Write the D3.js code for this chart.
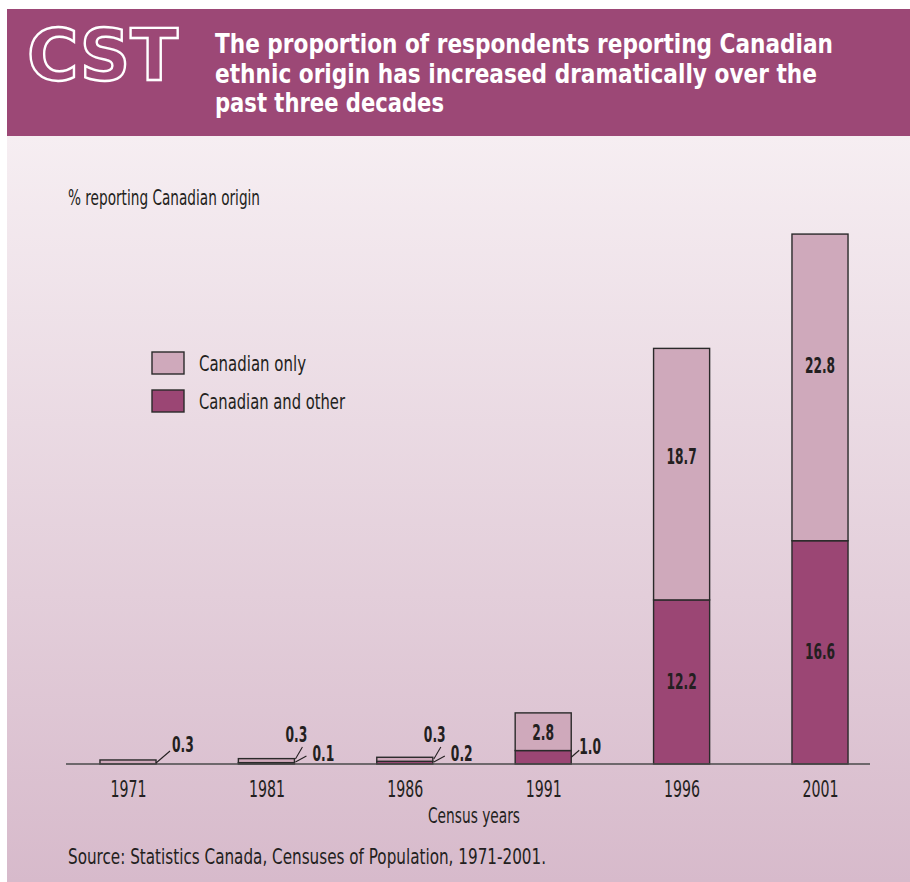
<!DOCTYPE html>
<html>
<head>
<meta charset="utf-8">
<script src="https://cdn.jsdelivr.net/npm/d3@7"></script>
<style>
  html, body { margin: 0; padding: 0; background: #ffffff; }
  svg { display: block; }
</style>
</head>
<body>
<div id="chart"></div>
<script>
// ---------------- data ----------------
const years = ["1971", "1981", "1986", "1991", "1996", "2001"];
const canadianOther = [0, 0.1, 0.2, 1.0, 12.2, 16.6];
const canadianOnly  = [0.3, 0.3, 0.3, 2.8, 18.7, 22.8];
const seriesNames = ["Canadian only", "Canadian and other"];
const titleLines = [
  "The proportion of respondents reporting Canadian",
  "ethnic origin has increased dramatically over the",
  "past three decades"
];
const yAxisLabel = "% reporting Canadian origin";
const xAxisLabel = "Census years";
const sourceText = "Source: Statistics Canada, Censuses of Population, 1971-2001.";

// ---------------- setup ----------------
const W = 910, H = 882;
const FONT = "'Liberation Sans Narrow', 'DejaVu Sans Condensed', 'DejaVu Sans', sans-serif";
const INK = "#231f20";
const HEAD = "#9c4876";
const LIGHT = "#cfa9bb";
const DARK = "#9b4674";

const svg = d3.select("#chart").append("svg")
  .attr("width", W).attr("height", H);

const defs = svg.append("defs");
const grad = defs.append("linearGradient").attr("id", "bg")
  .attr("x1", 0).attr("y1", 0).attr("x2", 0).attr("y2", 1);
grad.append("stop").attr("offset", "0%").attr("stop-color", "#f6eef2");
grad.append("stop").attr("offset", "100%").attr("stop-color", "#d7bacb");

svg.append("rect").attr("x", 7).attr("y", 136).attr("width", W - 7).attr("height", H - 136)
  .attr("fill", "url(#bg)");

// header band
svg.append("rect").attr("x", 7).attr("y", 9).attr("width", W - 7).attr("height", 127)
  .attr("fill", HEAD);

function fit(sel, w) {
  sel.attr("textLength", w).attr("lengthAdjust", "spacingAndGlyphs");
  return sel;
}

// CST logo (outlined)
fit(svg.append("text")
  .attr("x", 27).attr("y", 80)
  .attr("font-family", "'DejaVu Sans', sans-serif")
  .attr("font-weight", "bold")
  .attr("font-size", 72)
  .attr("fill", HEAD)
  .attr("stroke", "#ffffff")
  .attr("stroke-width", 2.4)
  .text("CST"), 151);

// title
const titleWidths = [618, 602, 229];
const titleBase = [53, 83, 112];
titleLines.forEach((t, i) => {
  fit(svg.append("text")
    .attr("x", 215).attr("y", titleBase[i])
    .attr("font-family", FONT)
    .attr("font-weight", "bold")
    .attr("font-size", 27)
    .attr("fill", "#ffffff")
    .text(t), titleWidths[i]);
});

// ---------------- scales ----------------
const x = d3.scalePoint().domain(years).range([128, 820]);
const barW = x.step() * 0.405;
const baseY = 764;
const y = d3.scaleLinear().domain([0, 40]).range([baseY, baseY - 40 * 13.45]);

const data = years.map((yr, i) => ({
  year: yr, other: canadianOther[i], only: canadianOnly[i]
}));

// y axis label
fit(svg.append("text")
  .attr("x", 68).attr("y", 205)
  .attr("font-family", FONT).attr("font-size", 21).attr("fill", INK)
  .text(yAxisLabel), 192);

// ---------------- bars ----------------
const g = svg.append("g");
const bars = g.selectAll("g.bar").data(data).enter().append("g").attr("class", "bar");

bars.filter(d => d.other > 0).append("rect")
  .attr("x", d => x(d.year) - barW / 2)
  .attr("y", d => y(d.other))
  .attr("width", barW)
  .attr("height", d => y(0) - y(d.other))
  .attr("fill", DARK).attr("stroke", "#2a2a2a").attr("stroke-width", 1.4);

bars.append("rect")
  .attr("x", d => x(d.year) - barW / 2)
  .attr("y", d => y(d.other + d.only))
  .attr("width", barW)
  .attr("height", d => y(d.other) - y(d.other + d.only))
  .attr("fill", LIGHT).attr("stroke", "#2a2a2a").attr("stroke-width", 1.4);

// axis line
svg.append("line")
  .attr("x1", 66).attr("x2", 870).attr("y1", baseY).attr("y2", baseY)
  .attr("stroke", "#4a4a4a").attr("stroke-width", 1.5);

// x axis tick labels via d3 axis
const xAxis = d3.axisBottom(x).tickSize(0).tickPadding(0);
const ax = svg.append("g").attr("transform", `translate(0,${baseY})`).call(xAxis);
ax.select(".domain").remove();
ax.selectAll("text")
  .attr("y", 33).attr("dy", null)
  .attr("font-family", FONT).attr("font-size", 23).attr("fill", INK)
  .attr("textLength", 36).attr("lengthAdjust", "spacingAndGlyphs");

fit(svg.append("text")
  .attr("x", 474).attr("y", 823).attr("text-anchor", "middle")
  .attr("font-family", FONT).attr("font-size", 22).attr("fill", INK)
  .text(xAxisLabel), 92);

// ---------------- value labels ----------------
function valText(xp, yp, txt, anchor) {
  const digits = txt.replace(/[^0-9]/g, "").length;
  return svg.append("text")
    .attr("x", xp).attr("y", yp)
    .attr("text-anchor", anchor || "middle")
    .attr("font-family", FONT).attr("font-weight", "bold")
    .attr("font-size", 21).attr("fill", INK)
    .attr("textLength", digits * 8.4 + 5).attr("lengthAdjust", "spacingAndGlyphs")
    .text(txt);
}
function leader(x1, y1, x2, y2) {
  svg.append("line").attr("x1", x1).attr("y1", y1).attr("x2", x2).attr("y2", y2)
    .attr("stroke", INK).attr("stroke-width", 1.1);
}

data.forEach(d => {
  const cx = x(d.year);
  const xr = cx + barW / 2;
  const total = d.other + d.only;
  if (total >= 10) {
    const top = y(total), mid = y(d.other);
    const hTop = mid - top;
    valText(cx, top + hTop * 0.43 + 7, d.only.toFixed(1));
    valText(cx, (mid + y(0)) / 2 + 7, d.other.toFixed(1));
  } else if (total >= 2) {
    const top = y(total), mid = y(d.other);
    valText(cx, (top + mid) / 2 + 8, d.only.toFixed(1));
    const ly = y(d.other / 2);
    leader(xr, ly, xr + 8, ly - 7);
    valText(xr + 8, ly - 3, d.other.toFixed(1), "start");
  } else if (d.other === 0) {
    leader(xr, baseY - 1, xr + 14, baseY - 13);
    valText(xr + 16, baseY - 12, d.only.toFixed(1), "start");
  } else {
    leader(xr + 1, baseY - 5, xr + 8, baseY - 17);
    valText(xr - 9, baseY - 22, d.only.toFixed(1), "start");
    leader(xr + 1, baseY - 2, xr + 12, baseY - 8);
    valText(xr + 18, baseY - 3, d.other.toFixed(1), "start");
  }
});

// ---------------- legend ----------------
const legColors = [LIGHT, DARK];
const legY = [352, 390];
const legW = [107, 146];
seriesNames.forEach((n, i) => {
  svg.append("rect").attr("x", 152).attr("y", legY[i]).attr("width", 32).attr("height", 22)
    .attr("fill", legColors[i]).attr("stroke", "#2a2a2a").attr("stroke-width", 1.4);
  fit(svg.append("text")
    .attr("x", 199).attr("y", legY[i] + 19)
    .attr("font-family", FONT).attr("font-size", 22).attr("fill", INK)
    .text(n), legW[i]);
});

// source
fit(svg.append("text")
  .attr("x", 68).attr("y", 864)
  .attr("font-family", FONT).attr("font-size", 21).attr("fill", INK)
  .text(sourceText), 478);
</script>
</body>
</html>
